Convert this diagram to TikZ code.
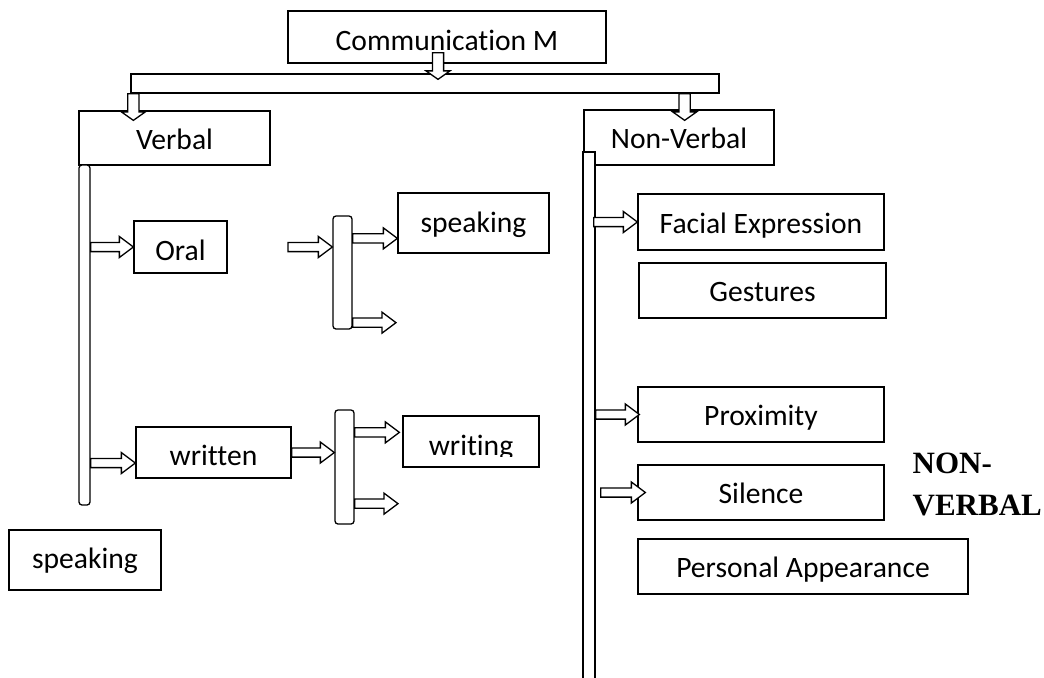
\documentclass[tikz,border=0pt]{standalone}
\usepackage{fontspec}
\setmainfont{Carlito}[Ligatures=NoCommon]
\newfontfamily\lblfont{Liberation Serif}
\usetikzlibrary{calc}

\begin{document}
\begin{tikzpicture}[x=0.5pt, y=-0.5pt, line width=0.65pt,
    box/.style={draw, inner sep=0pt, text height=11.3pt, text depth=0pt,
        font=\fontsize{14.8}{17}\selectfont},
    bar/.style={draw, fill=white, inner sep=0pt},
    % hollow block arrows, pointing right and down
    rarr/.style={draw, fill=white, to path={let \p1=(\tikztostart), \p2=(\tikztotarget) in
        (\x1,\y1+2.3pt) -- (\x2-7pt,\y1+2.3pt) -- (\x2-7pt,\y1+5.25pt) -- (\x2,\y1)
        -- (\x2-7pt,\y1-5.25pt) -- (\x2-7pt,\y1-2.3pt) -- (\x1,\y1-2.3pt) -- cycle}},
    darr/.style={draw, fill=white, to path={let \p1=(\tikztostart), \p2=(\tikztotarget) in
        (\x1-2.8pt,\y1) -- (\x1-2.8pt,\y2+4.25pt) -- (\x1-6pt,\y2+4.25pt) -- (\x1,\y2)
        -- (\x1+6pt,\y2+4.25pt) -- (\x1+2.8pt,\y2+4.25pt) -- (\x1+2.8pt,\y1) -- cycle}}]
    \useasboundingbox (0,0) rectangle (1044,677);

    \node[box, minimum width=159pt, minimum height=26pt, text height=13.3pt] (comm) at (447,37) {Communication M};
    \node[bar, minimum width=294pt, minimum height=9.5pt] (topbar) at (425,83.5) {};
    \node[box, minimum width=95.5pt, minimum height=27pt] (verbal) at (174.5,138) {Verbal};
    \node[box, minimum width=95pt, minimum height=27.5pt] (nonverbal) at (679,137.5) {Non-Verbal};

    % verbal side
    \node[bar, rounded corners=1.5pt, minimum width=5.5pt, minimum height=170pt] (vbar) at (84.5,335) {};
    \node[box, minimum width=46.5pt, minimum height=26pt, text height=13.3pt] (oral) at (180.5,247) {Oral};
    \node[bar, rounded corners=1.5pt, minimum width=9.5pt, minimum height=56.5pt] (oralbr) at (342.5,272.5) {};
    \node[box, minimum width=75.5pt, minimum height=30pt, text height=9.3pt] (speak1) at (473.5,223) {speaking};
    \node[box, minimum width=77.5pt, minimum height=25.5pt, text height=13pt] (written) at (213.5,452.5) {written};
    \node[bar, rounded corners=1.5pt, minimum width=9.5pt, minimum height=57pt] (writbr) at (344.5,467) {};
    \node[box, minimum width=68pt, minimum height=25.5pt] (writing) at (471,441.5) {};
    \node[box, minimum width=76pt, minimum height=30pt, text height=8.3pt] (speak2) at (85,560) {speaking};
    % the text of writing is cut at its baseline
    \begin{scope}
        \clip (writing.north west) rectangle ([yshift=5.5pt]writing.south east);
        \node[box, draw=none, text height=13.8pt] (writingtxt) at (writing) {writing};
    \end{scope}

    % non-verbal side
    \node[bar, minimum width=6pt, minimum height=264pt] (nvbar) at (589,416) {};
    \node[box, minimum width=123pt, minimum height=28pt] (facial) at (761,222) {Facial Expression};
    \node[box, minimum width=123.5pt, minimum height=27.5pt] (gestures) at (762.5,290.5) {Gestures};
    \node[box, minimum width=123pt, minimum height=27.5pt] (proximity) at (761,414.5) {Proximity};
    \node[box, minimum width=123pt, minimum height=27.5pt] (silence) at (761,492.5) {Silence};
    \node[box, minimum width=165pt, minimum height=27.5pt] (personal) at (803,566.5) {Personal Appearance};
    \node[anchor=north west, inner sep=0pt, align=left,
        font=\lblfont\bfseries\fontsize{15.5}{21}\selectfont] (nvlabel) at (912,452) {NON-\\VERBAL};

    \coordinate (oralin) at (288,247);
    \coordinate (oralout) at (396,322);
    \coordinate (writout) at (398,503);

    \draw[darr] ([shift={(-4.5pt,5.5pt)}]comm.south) to ([yshift=-3pt]topbar.north);
    \draw[darr] ([xshift=1.5pt]topbar.south west) to ([yshift=-5pt]verbal.north);
    \draw[darr] ([xshift=-17.5pt]topbar.south east) to ([yshift=-5.5pt]nonverbal.north);

    \draw[rarr] (vbar.east |- oral.west) to (oral.west);
    \draw[rarr] (oralin) to (oralin -| oralbr.west);
    \draw[rarr] ([yshift=-11.5pt]oralbr.north east) to (speak1.west);
    \draw[rarr] ([yshift=3.5pt]oralbr.south east) to (oralout);
    \draw[rarr] ([yshift=-5.25pt]vbar.east |- written.west) to (written.west);
    \draw[rarr] (written.east) to (writbr.west);
    \draw[rarr] ([yshift=-11.5pt]writbr.north east) to ([xshift=-1.5pt]writing.west);
    \draw[rarr] ([yshift=10.5pt]writbr.south east) to (writout);

    \draw[rarr] ([xshift=-1pt]nvbar.east |- facial.west) to (facial.west);
    \draw[rarr] (nvbar.east |- proximity.west) to ([xshift=1pt]proximity.west);
    \draw[rarr] ([xshift=2.5pt]nvbar.east |- silence.west) to ([xshift=4pt]silence.west);
\end{tikzpicture}
\end{document}
